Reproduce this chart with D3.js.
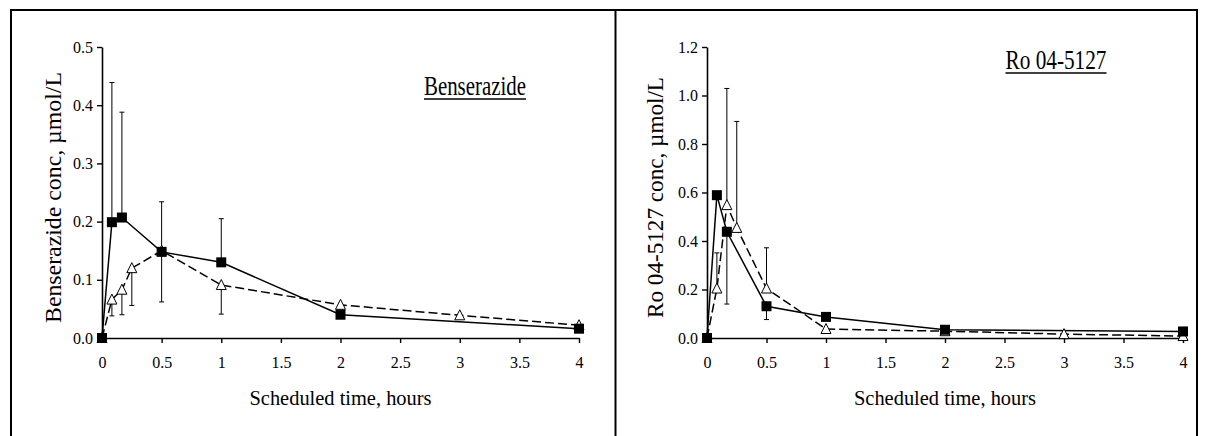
<!DOCTYPE html>
<html><head><meta charset="utf-8">
<script src="https://cdn.jsdelivr.net/npm/d3@7/dist/d3.min.js"></script>
<style>body{margin:0;background:#fff}svg{display:block}svg text{font-family:'Liberation Serif','Times New Roman',serif}</style>
</head><body><svg id="c" width="1209" height="436"></svg>
<script>
// ---- data ----
const xTicks = [0, 0.5, 1, 1.5, 2, 2.5, 3, 3.5, 4];
const xTickLabels = ["0", "0.5", "1", "1.5", "2", "2.5", "3", "3.5", "4"];
const benTicks = [0, 0.1, 0.2, 0.3, 0.4, 0.5];
const benTickLabels = ["0.0", "0.1", "0.2", "0.3", "0.4", "0.5"];
const roTicks = [0, 0.2, 0.4, 0.6, 0.8, 1.0, 1.2];
const roTickLabels = ["0.0", "0.2", "0.4", "0.6", "0.8", "1.0", "1.2"];

const sqTimes = [0, 0.083, 0.167, 0.5, 1, 2, 4];
const triTimes = [0, 0.083, 0.167, 0.25, 0.5, 1, 2, 3, 4];

const benSq = [0, 0.199, 0.207, 0.148, 0.130, 0.040, 0.016];
const benSqErrUp = [null, 0.240, 0.181, 0.086, 0.075, null, null];
const benSqErrDown = [null, null, null, null, null, null, null];
const benTri = [0, 0.066, 0.083, 0.120, 0.150, 0.091, 0.057, 0.039, 0.022];
const benTriErrUp = [null, null, null, null, null, null, null, null, null];
const benTriErrDown = [null, 0.028, 0.043, 0.064, 0.088, 0.050, null, null, null];

const roSq = [0, 0.589, 0.438, 0.131, 0.087, 0.034, 0.027];
const roSqErrUp = [null, null, null, null, null, null, null];
const roSqErrDown = [null, null, 0.298, 0.055, null, null, null];
const roTri = [0, 0.204, 0.548, 0.454, 0.204, 0.037, 0.028, 0.016, 0.008];
const roTriErrUp = [null, 0.147, 0.481, 0.439, 0.168, null, null, null, null];
const roTriErrDown = [null, null, null, null, null, null, null, null, null];

const panels = [
  {title: "Benserazide", yLabel: "Benserazide conc, \u00b5mol/L", yMax: 0.5, ticks: benTicks, tickLabels: benTickLabels,
   sq: benSq, sqUp: benSqErrUp, sqDown: benSqErrDown, tri: benTri, triUp: benTriErrUp, triDown: benTriErrDown,
   x0: 102, x1: 579, titleX: 475, titleY: 95, titleLen: 102, yTitleX: 61, yTitleLen: 251},
  {title: "Ro 04-5127", yLabel: "Ro 04-5127 conc, \u00b5mol/L", yMax: 1.2, ticks: roTicks, tickLabels: roTickLabels,
   sq: roSq, sqUp: roSqErrUp, sqDown: roSqErrDown, tri: roTri, triUp: roTriErrUp, triDown: roTriErrDown,
   x0: 707, x1: 1183, titleX: 1056, titleY: 69, titleLen: 101, yTitleX: 663, yTitleLen: 241}
];

const svg = d3.select("#c");
const FONT = "'Liberation Serif','Times New Roman',serif";
const yTop = 47, yBot = 338;

// outer frame
svg.append("path").attr("d", "M11,436V10H1197V436").attr("fill", "none").attr("stroke", "#000").attr("stroke-width", 2);
svg.append("line").attr("x1", 615.5).attr("x2", 615.5).attr("y1", 10).attr("y2", 436).attr("stroke", "#000").attr("stroke-width", 2);

panels.forEach(p => {
  const x = d3.scaleLinear().domain([0, 4]).range([p.x0, p.x1]);
  const y = d3.scaleLinear().domain([0, p.yMax]).range([yBot, yTop]);
  const g = svg.append("g");

  // y axis
  const ya = g.append("g").attr("transform", `translate(${p.x0},0)`)
    .call(d3.axisLeft(y).tickValues(p.ticks).tickFormat((d, i) => p.tickLabels[i]).tickSize(5).tickSizeOuter(0).tickPadding(4));
  ya.attr("font-family", FONT).attr("font-size", 16);
  ya.select(".domain").attr("stroke-width", 1.6);
  ya.selectAll(".tick line").attr("stroke-width", 1.4);
  ya.selectAll("text").style("font-family", FONT).style("font-size", "16px").attr("fill", "#000");

  // x axis
  const xa = g.append("g").attr("transform", `translate(0,${yBot})`)
    .call(d3.axisBottom(x).tickValues(xTicks).tickFormat((d, i) => xTickLabels[i]).tickSize(5).tickSizeOuter(0).tickPadding(14));
  xa.attr("font-family", FONT).attr("font-size", 16);
  xa.select(".domain").attr("stroke-width", 1.6);
  xa.selectAll(".tick line").attr("stroke-width", 1.4);
  xa.selectAll("text").style("font-family", FONT).style("font-size", "16px").attr("fill", "#000");

  // axis titles
  g.append("text").attr("x", (p.x0 + p.x1) / 2).attr("y", 405).attr("text-anchor", "middle")
    .style("font-size", "20px").attr("textLength", 182).attr("lengthAdjust", "spacingAndGlyphs")
    .text("Scheduled time, hours");
  g.append("text").attr("transform", `translate(${p.yTitleX},${(yTop + yBot) / 2 + 5}) rotate(-90)`).attr("text-anchor", "middle")
    .style("font-size", "23px").attr("textLength", p.yTitleLen).attr("lengthAdjust", "spacingAndGlyphs")
    .text(p.yLabel);

  // panel title, underlined
  g.append("text").attr("x", p.titleX).attr("y", p.titleY).attr("text-anchor", "middle")
    .style("font-size", "27px").attr("textLength", p.titleLen).attr("lengthAdjust", "spacingAndGlyphs")
    .text(p.title);
  g.append("line").attr("x1", p.titleX - p.titleLen / 2).attr("x2", p.titleX + p.titleLen / 2)
    .attr("y1", p.titleY + 4).attr("y2", p.titleY + 4).attr("stroke", "#000").attr("stroke-width", 1.5);

  // error bars
  const errs = [];
  sqTimes.forEach((tm, i) => {
    if (p.sqUp[i] != null) errs.push([tm, p.sq[i], p.sq[i] + p.sqUp[i]]);
    if (p.sqDown[i] != null) errs.push([tm, p.sq[i], p.sq[i] - p.sqDown[i]]);
  });
  triTimes.forEach((tm, i) => {
    if (p.triUp[i] != null) errs.push([tm, p.tri[i], p.tri[i] + p.triUp[i]]);
    if (p.triDown[i] != null) errs.push([tm, p.tri[i], p.tri[i] - p.triDown[i]]);
  });
  errs.forEach(e => {
    g.append("line").attr("x1", x(e[0])).attr("x2", x(e[0])).attr("y1", y(e[1])).attr("y2", y(e[2]))
      .attr("stroke", "#000").attr("stroke-width", 1);
    g.append("line").attr("x1", x(e[0]) - 2.5).attr("x2", x(e[0]) + 2.5).attr("y1", y(e[2])).attr("y2", y(e[2]))
      .attr("stroke", "#000").attr("stroke-width", 1);
  });

  // lines
  const triData = triTimes.map((tm, i) => [tm, p.tri[i]]);
  const sqData = sqTimes.map((tm, i) => [tm, p.sq[i]]);
  const line = d3.line().x(d => x(d[0])).y(d => y(d[1]));
  g.append("path").attr("d", line(triData)).attr("fill", "none").attr("stroke", "#000")
    .attr("stroke-width", 1.5).attr("stroke-dasharray", "9,4");
  g.append("path").attr("d", line(sqData)).attr("fill", "none").attr("stroke", "#000").attr("stroke-width", 1.5);

  // markers
  g.selectAll(".tri").data(triData).enter().append("path")
    .attr("d", d => `M${x(d[0])},${y(d[1]) - 5.5}L${x(d[0]) + 5},${y(d[1]) + 4.5}L${x(d[0]) - 5},${y(d[1]) + 4.5}Z`)
    .attr("fill", "#fff").attr("stroke", "#000").attr("stroke-width", 1);
  g.selectAll(".sq").data(sqData).enter().append("rect")
    .attr("x", d => x(d[0]) - 5).attr("y", d => y(d[1]) - 5).attr("width", 10).attr("height", 10)
    .attr("fill", "#000");
});
</script>
</body></html>
